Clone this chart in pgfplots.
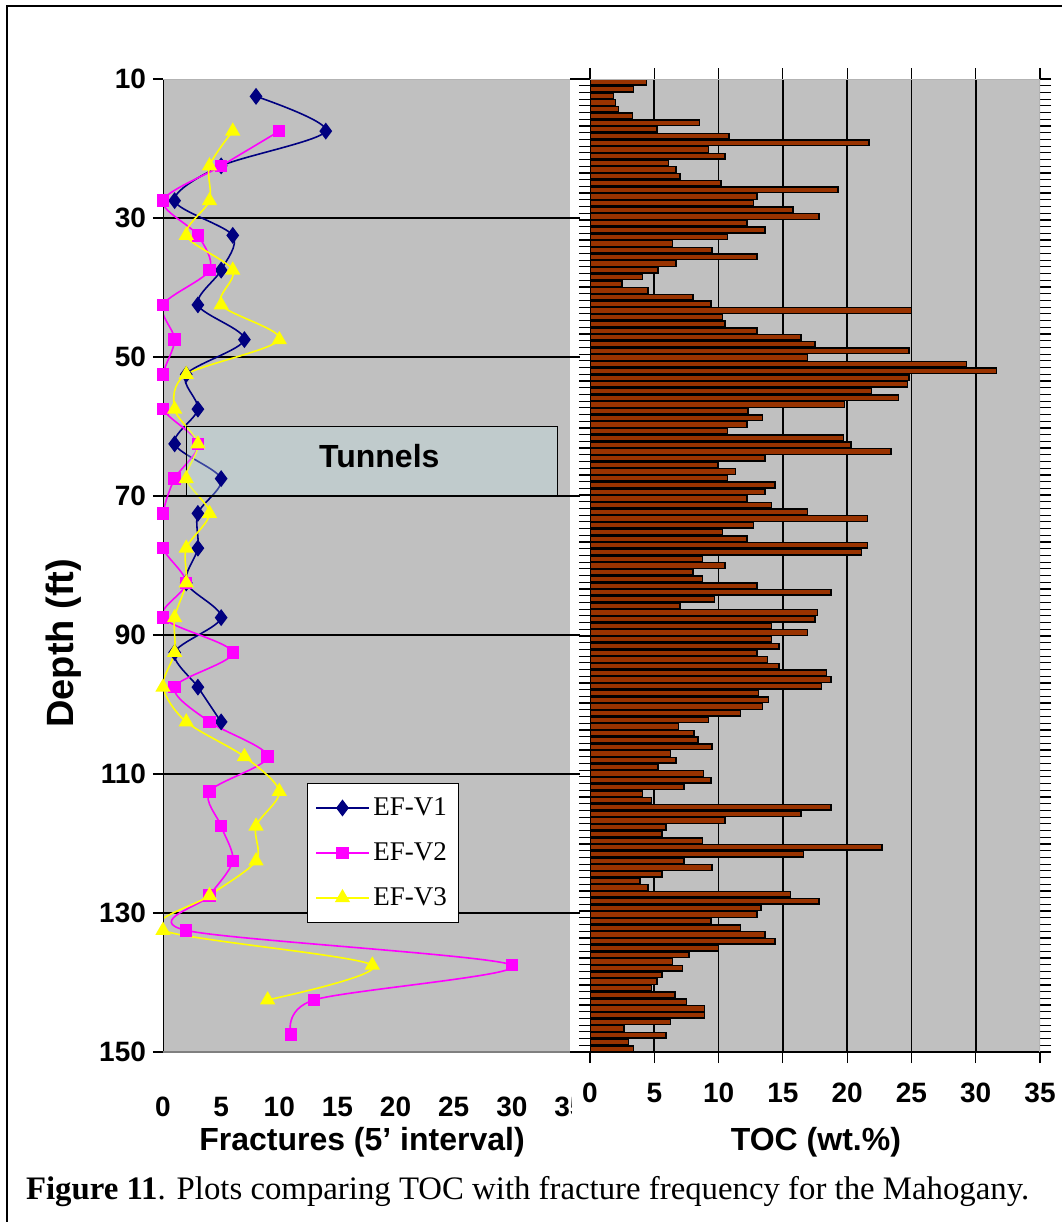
\documentclass[border=0pt]{standalone}
\usepackage{pgfplots}
\pgfplotsset{compat=1.18}
\usepackage{pgfplotstable}
\usepackage{fontspec}
\setmainfont{Liberation Serif}
\setsansfont{Liberation Sans}

\definecolor{plotgray}{RGB}{192,192,192}
\definecolor{edgegray}{RGB}{128,128,128}
\definecolor{efnavy}{RGB}{0,0,128}
\definecolor{efmag}{RGB}{255,0,255}
\definecolor{efyel}{RGB}{255,255,0}
\definecolor{tocbrown}{RGB}{153,51,0}
\definecolor{tunnelfill}{RGB}{192,229,232}

% TOC samples, one bar per sample, top to bottom
\pgfplotstableread{
n toc
1 4.4
2 3.4
3 1.85
4 2.0
5 2.2
6 3.3
7 8.5
8 5.2
9 10.8
10 21.7
11 9.2
12 10.5
13 6.1
14 6.7
15 7.0
16 10.2
17 19.3
18 13.0
19 12.7
20 15.8
21 17.8
22 12.2
23 13.6
24 10.7
25 6.4
26 9.5
27 13.0
28 6.7
29 5.3
30 4.1
31 2.5
32 4.5
33 8.0
34 9.4
35 25.0
36 10.3
37 10.5
38 13.0
39 16.4
40 17.5
41 24.8
42 16.9
43 29.3
44 31.6
45 24.8
46 24.7
47 21.9
48 24.0
49 19.8
50 12.3
51 13.4
52 12.2
53 10.7
54 19.7
55 20.3
56 23.4
57 13.6
58 9.9
59 11.3
60 10.7
61 14.4
62 13.6
63 12.2
64 14.1
65 16.9
66 21.6
67 12.7
68 10.3
69 12.2
70 21.6
71 21.1
72 8.75
73 10.5
74 8.0
75 8.75
76 13.0
77 18.75
78 9.7
79 7.0
80 17.7
81 17.5
82 14.1
83 16.9
84 14.1
85 14.7
86 13.0
87 13.8
88 14.7
89 18.4
90 18.75
91 18.0
92 13.1
93 13.9
94 13.4
95 11.7
96 9.2
97 6.9
98 8.1
99 8.4
100 9.5
101 6.25
102 6.7
103 5.3
104 8.85
105 9.4
106 7.3
107 4.1
108 4.8
109 18.75
110 16.4
111 10.5
112 5.9
113 5.6
114 8.75
115 22.7
116 16.6
117 7.3
118 9.5
119 5.6
120 3.9
121 4.5
122 15.6
123 17.8
124 13.3
125 13.0
126 9.4
127 11.7
128 13.6
129 14.4
130 10.0
131 7.7
132 6.4
133 7.2
134 5.6
135 5.2
136 4.8
137 6.6
138 7.5
139 8.9
140 8.9
141 6.25
142 2.65
143 5.9
144 3.0
145 3.4
}\tocdata

\newcommand{\tickfont}{\sffamily\bfseries\fontsize{14}{16}\selectfont}

\begin{document}
\begin{tikzpicture}
\path[use as bounding box] (0pt,0pt) rectangle (531pt,611pt);
\draw[line width=1.4pt] (3.5pt,0pt) -- (3.5pt,608pt) -- (531pt,608pt);

% ---- fractures vs depth
\begin{axis}[
  at={(81.5pt,85pt)}, anchor=south west,
  scale only axis, width=203.5pt, height=486.5pt,
  xmin=0, xmax=35, ymin=10, ymax=150, y dir=reverse,
  axis background/.style={fill=plotgray},
  axis line style={draw=none},
  /pgf/number format/assume math mode=true,
  xtick={0,5,...,35}, xtick style={draw=none},
  xticklabel style={font=\tickfont, yshift=-14pt},
  ytick={10,30,...,150},
  ytick style={black, line width=0.6pt},
  yticklabel style={font=\tickfont},
  tick align=outside, major tick length=5pt,
  extra y ticks={30,50,...,130}, extra y tick labels={},
  extra y tick style={grid=major, major tick length=0pt},
  grid style={black, line width=0.6pt},
  ylabel={Depth (ft)},
  ylabel style={font=\sffamily\bfseries\fontsize{19}{22}\selectfont, at={(axis description cs:-0.245,0.42)}, anchor=center},
  xlabel={Fractures (5’ interval)},
  xlabel style={font=\sffamily\bfseries\fontsize{16}{18}\selectfont, at={(axis description cs:0.489,0)}, anchor=center, yshift=-45pt},
  legend style={at={(axis description cs:0.354,0.2765)}, anchor=north west,
    draw=black, fill=white, line width=0.6pt,
    font=\rmfamily\fontsize{13.5}{15}\selectfont,
    row sep=8pt, inner xsep=4pt, inner ysep=5pt},
  legend cell align=left,
  legend image code/.code={\draw[mark repeat=2,mark phase=2,#1] plot coordinates {(0pt,0pt)(13pt,0pt)(26pt,0pt)};},
]
\addplot[efnavy, line width=0.8pt, smooth, mark=diamond*, mark size=3.6pt, mark options={fill=efnavy}] coordinates {
  (8,12.5) (14,17.5) (5,22.5) (1,27.5) (6,32.5) (5,37.5) (3,42.5) (7,47.5)
  (2,52.5) (3,57.5) (1,62.5) (5,67.5) (3,72.5) (3,77.5) (2,82.5) (5,87.5)
  (1,92.5) (3,97.5) (5,102.5)};
\addplot[efmag, line width=0.8pt, smooth, mark=square*, mark size=2.7pt, mark options={fill=efmag}] coordinates {
  (10,17.5) (5,22.5) (0,27.5) (3,32.5) (4,37.5) (0,42.5) (1,47.5) (0,52.5)
  (0,57.5) (3,62.5) (1,67.5) (0,72.5) (0,77.5) (2,82.5) (0,87.5) (6,92.5)
  (1,97.5) (4,102.5) (9,107.5) (4,112.5) (5,117.5) (6,122.5) (4,127.5)
  (2,132.5) (30,137.5) (13,142.5) (11,147.5)};
\addplot[efyel, line width=0.8pt, smooth, mark=triangle*, mark size=3.6pt, mark options={fill=efyel}] coordinates {
  (6,17.5) (4,22.5) (4,27.5) (2,32.5) (6,37.5) (5,42.5) (10,47.5) (2,52.5)
  (1,57.5) (3,62.5) (2,67.5) (4,72.5) (2,77.5) (2,82.5) (1,87.5) (1,92.5)
  (0,97.5) (2,102.5) (7,107.5) (10,112.5) (8,117.5) (8,122.5) (4,127.5)
  (0,132.5) (18,137.5) (9,142.5)};
\legend{EF-V1,EF-V2,EF-V3}
\draw[fill=tunnelfill, fill opacity=0.3, draw=black, line width=0.6pt]
  (axis cs:2,60) rectangle (axis cs:33.9,70);
\node[font=\sffamily\bfseries\fontsize{16}{18}\selectfont] at (axis cs:18.6,64.3) {Tunnels};
\draw[black, line width=0.8pt] (axis cs:0,10) -- (axis cs:0,150);
\draw[edgegray, line width=0.8pt] (axis cs:0,150) -- (axis cs:35,150);
\draw[edgegray!60, line width=0.8pt] (axis cs:0,10) -- (axis cs:35,10);
\end{axis}

\fill[white] (286pt,48pt) rectangle (294pt,72pt);

% ---- TOC vs depth
\begin{axis}[
  at={(295pt,85pt)}, anchor=south west,
  scale only axis, width=225pt, height=486.5pt,
  xmin=0, xmax=35, ymin=0.5, ymax=145.5, y dir=reverse,
  axis background/.style={fill=plotgray},
  axis line style={draw=none},
  /pgf/number format/assume math mode=true,
  xbar, bar width=0.84,
  xtick={0,5,...,35},
  xticklabel style={font=\tickfont, yshift=-6.5pt},
  ytick={0.5,1.5,...,145.5}, yticklabels={},
  tick style={black, line width=0.6pt},
  tick align=outside, major tick length=5.5pt,
  extra x ticks={5,10,...,30}, extra x tick labels={},
  extra x tick style={grid=major, major tick length=0pt},
  grid style={black, line width=0.8pt},
  xlabel={TOC (wt.\%)},
  xlabel style={font=\sffamily\bfseries\fontsize{16}{18}\selectfont, at={(axis description cs:0.502,0)}, anchor=center, yshift=-45pt},
]
\addplot[fill=tocbrown, draw=black, line width=0.7pt] table[x=toc, y=n] {\tocdata};
\draw[black, line width=0.8pt] (axis cs:0,0.5) -- (axis cs:0,145.5);
\draw[black, line width=0.8pt] (axis cs:0,145.5) -- (axis cs:35,145.5);
\draw[edgegray!60, line width=0.8pt] (axis cs:0,0.5) -- (axis cs:35,0.5) -- (axis cs:35,145.5);
\end{axis}

\node[anchor=west, font=\rmfamily\fontsize{16.4}{19}\selectfont] at (9.5pt,15pt)
  {\textbf{Figure 11}. Plots comparing TOC with fracture frequency for the Mahogany.};
\end{tikzpicture}
\end{document}
